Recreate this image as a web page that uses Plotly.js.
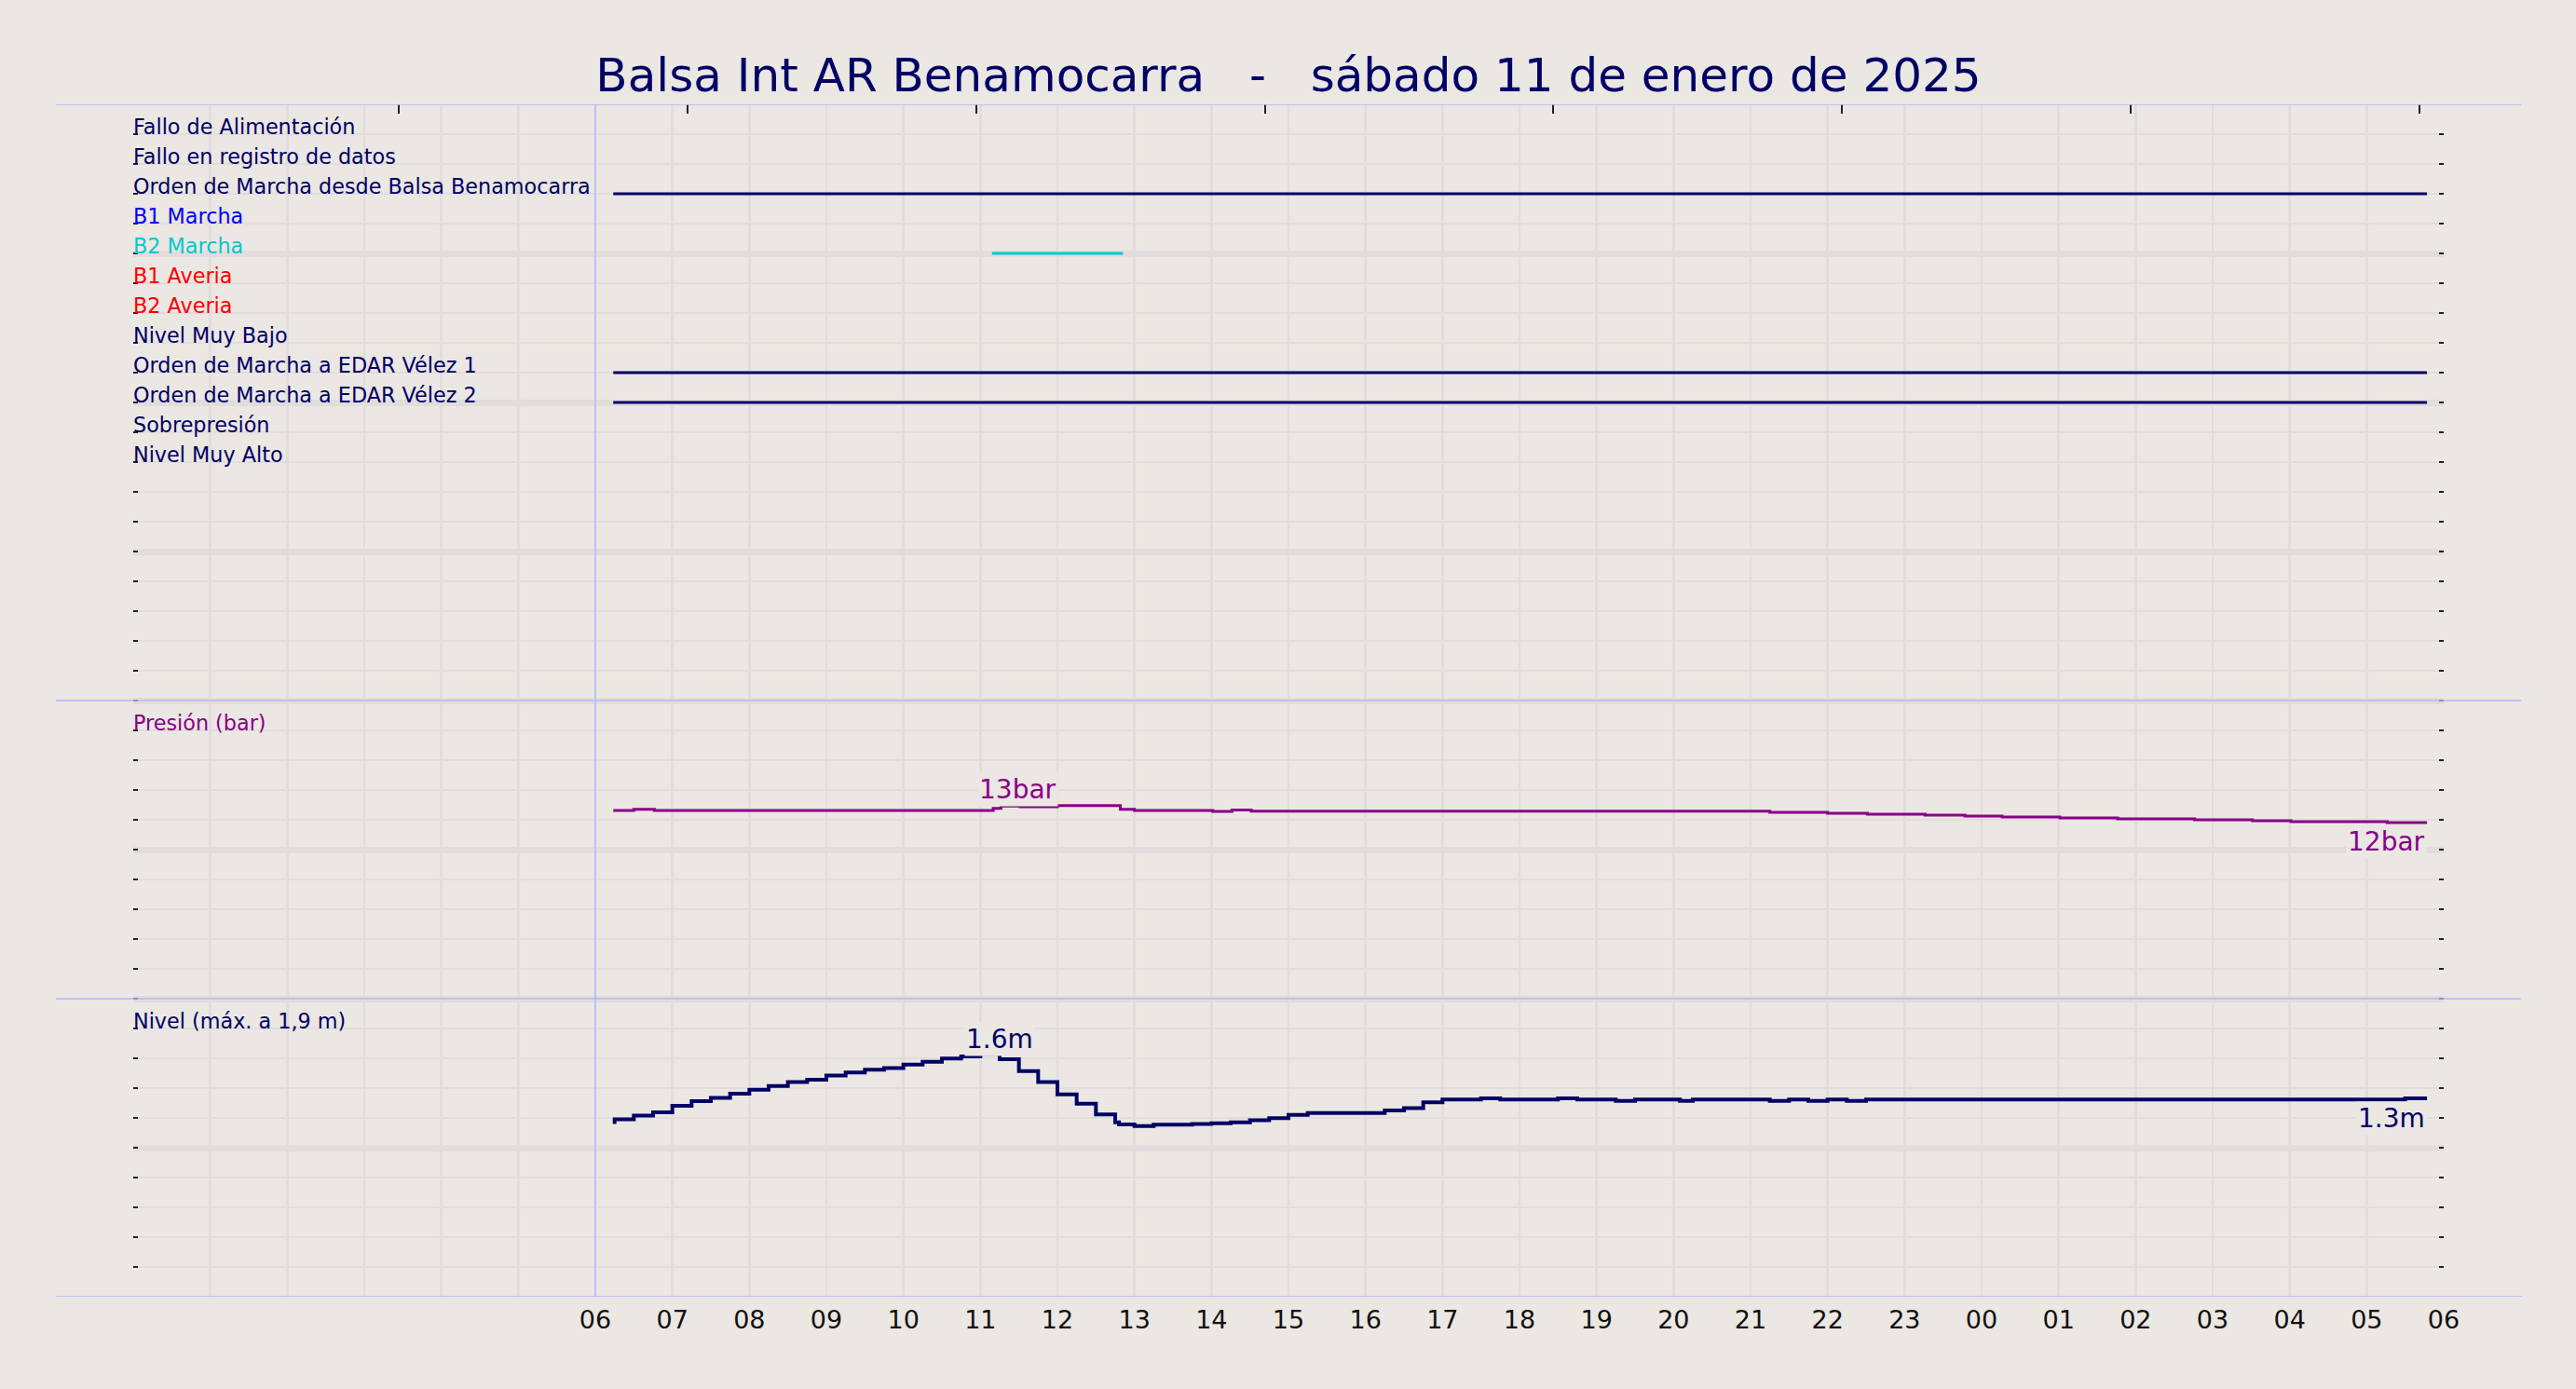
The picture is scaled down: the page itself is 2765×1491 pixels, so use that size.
<!DOCTYPE html>
<html><head><meta charset="utf-8">
<script src="https://cdn.plot.ly/plotly-3.0.1.min.js"></script>
<style>html,body{margin:0;padding:0;background:#ebe7e2;}</style>
</head><body><div id="chart" style="width:2765px;height:1491px;"></div>
<script>
// ---------------- DATA ----------------
const titleText = 'Balsa Int AR Benamocarra\u00a0\u00a0\u00a0-\u00a0\u00a0\u00a0sábado 11 de enero de 2025';
const rangeStart = '2025-01-11 00:00';
const rangeEnd = '2025-01-12 06:00';
const dividerTime = '2025-01-11 06:00';

const hourLabels = ['', '', '', '', '', '', '06', '07', '08', '09', '10', '11', '12', '13', '14', '15', '16', '17',
  '18', '19', '20', '21', '22', '23', '00', '01', '02', '03', '04', '05', '06'];

const signalLabels = ['Fallo de Alimentación', 'Fallo en registro de datos', 'Orden de Marcha desde Balsa Benamocarra',
  'B1 Marcha', 'B2 Marcha', 'B1 Averia', 'B2 Averia', 'Nivel Muy Bajo', 'Orden de Marcha a EDAR Vélez 1',
  'Orden de Marcha a EDAR Vélez 2', 'Sobrepresión', 'Nivel Muy Alto'];
const signalColors = ['#000066', '#000066', '#000066', '#0000ff', '#00c8d0', '#ff0000', '#ff0000', '#000066',
  '#000066', '#000066', '#000066', '#000066'];
const signalOnStart = [[], [], ['2025-01-11 06:14'], [], ['2025-01-11 11:09'], [], [], [], ['2025-01-11 06:14'], ['2025-01-11 06:14'], [], []];
const signalOnEnd   = [[], [], ['2025-01-12 05:47'], [], ['2025-01-11 12:51'], [], [], [], ['2025-01-12 05:47'], ['2025-01-12 05:47'], [], []];

const presTimes = ['2025-01-11 06:14', '2025-01-11 06:30', '2025-01-11 06:46', '2025-01-11 11:10', '2025-01-11 11:16',
  '2025-01-11 11:31', '2025-01-11 12:00', '2025-01-11 12:49', '2025-01-11 13:00', '2025-01-11 14:01', '2025-01-11 14:16',
  '2025-01-11 14:31', '2025-01-11 21:15', '2025-01-11 22:00', '2025-01-11 22:31', '2025-01-11 23:16', '2025-01-11 23:47',
  '2025-01-12 00:16', '2025-01-12 01:01', '2025-01-12 01:46', '2025-01-12 02:46', '2025-01-12 03:31', '2025-01-12 04:01',
  '2025-01-12 05:16', '2025-01-12 05:47'];
const presValues = [12.62, 12.71, 12.62, 12.77, 12.92, 12.87, 12.96, 12.71, 12.62, 12.56, 12.65, 12.58, 12.50, 12.44,
  12.37, 12.31, 12.25, 12.19, 12.12, 12.06, 12.00, 11.94, 11.87, 11.81, 11.81];

const levelTimes = ['2025-01-11 06:15', '2025-01-11 06:15', '2025-01-11 06:30', '2025-01-11 06:45', '2025-01-11 07:00',
  '2025-01-11 07:15', '2025-01-11 07:30', '2025-01-11 07:45', '2025-01-11 08:00', '2025-01-11 08:15', '2025-01-11 08:30',
  '2025-01-11 08:45', '2025-01-11 09:00', '2025-01-11 09:15', '2025-01-11 09:30', '2025-01-11 09:45', '2025-01-11 10:00',
  '2025-01-11 10:15', '2025-01-11 10:30', '2025-01-11 10:45', '2025-01-11 11:00', '2025-01-11 11:15', '2025-01-11 11:30',
  '2025-01-11 11:45', '2025-01-11 12:00', '2025-01-11 12:15', '2025-01-11 12:30', '2025-01-11 12:45', '2025-01-11 12:48',
  '2025-01-11 13:00', '2025-01-11 13:15', '2025-01-11 13:45', '2025-01-11 14:00', '2025-01-11 14:15', '2025-01-11 14:30',
  '2025-01-11 14:45', '2025-01-11 15:00', '2025-01-11 15:15', '2025-01-11 16:15', '2025-01-11 16:30', '2025-01-11 16:45',
  '2025-01-11 17:00', '2025-01-11 17:30', '2025-01-11 17:45', '2025-01-11 18:30', '2025-01-11 18:45', '2025-01-11 19:15',
  '2025-01-11 19:30', '2025-01-11 20:05', '2025-01-11 20:15', '2025-01-11 21:15', '2025-01-11 21:30', '2025-01-11 21:45',
  '2025-01-11 22:00', '2025-01-11 22:15', '2025-01-11 22:30', '2025-01-12 05:30', '2025-01-12 05:47'];
const levelValues = [1.160, 1.191, 1.216, 1.237, 1.281, 1.312, 1.335, 1.362, 1.389, 1.414, 1.441, 1.456, 1.485, 1.504,
  1.523, 1.535, 1.558, 1.577, 1.598, 1.612, 1.630, 1.594, 1.514, 1.441, 1.358, 1.296, 1.223, 1.171, 1.156, 1.146, 1.154,
  1.160, 1.164, 1.171, 1.185, 1.198, 1.221, 1.233, 1.250, 1.266, 1.304, 1.323, 1.331, 1.323, 1.331, 1.323, 1.314, 1.323,
  1.314, 1.323, 1.314, 1.323, 1.314, 1.323, 1.314, 1.323, 1.331, 1.331];

const presLabelTexts = ['13bar', '12bar'];
const presLabelTimes = ['2025-01-11 11:29', '2025-01-12 05:47'];
const presLabelValues = [12.89, 11.81];
const levelLabelTexts = ['1.6m', '1.3m'];
const levelLabelTimes = ['2025-01-11 11:15', '2025-01-12 05:47'];
const levelLabelValues = [1.612, 1.331];

const panelTitles = ['Presión (bar)', 'Nivel (máx. a 1,9 m)'];
const panelTitleColors = ['#880088', '#000066'];
const panelTitleRows = [21, 31];
const panelBounds = [0, 20, 30, 40];
const topTickRange = [-0.9187, 7.083];

// ---------------- STYLE ----------------
const BG = '#ebe7e2', GRID = '#e2dddc', NAVY = '#000066', PURPLE = '#880088', SEP = '#b4b4ff';
const FONT = 'DejaVu Sans';
const ROWFONT = 22.3;

const traces = [];
signalLabels.forEach((lab, i) => {
  signalOnStart[i].forEach((s, k) => {
    traces.push({type: 'scatter', mode: 'lines', x: [s, signalOnEnd[i][k]], y: [i + 1, i + 1],
      line: {color: signalColors[i], width: 3}, hoverinfo: 'skip', showlegend: false});
  });
});
traces.push({type: 'scatter', mode: 'lines', x: presTimes, y: presValues, yaxis: 'y2',
  line: {color: PURPLE, width: 3, shape: 'hv'}, showlegend: false});
traces.push({type: 'scatter', mode: 'lines', x: levelTimes, y: levelValues, yaxis: 'y3',
  line: {color: NAVY, width: 4, shape: 'hv'}, showlegend: false});
traces.push({type: 'scatter', mode: 'lines', x: [], y: [], xaxis: 'x2', yaxis: 'y', showlegend: false, hoverinfo: 'skip'});

const startMs = new Date(rangeStart.replace(' ', 'T')).getTime();
const hourTicks = hourLabels.map((_, i) => {
  const d = new Date(startMs + i * 3600000);
  const p = n => String(n).padStart(2, '0');
  return d.getFullYear() + '-' + p(d.getMonth() + 1) + '-' + p(d.getDate()) + ' ' + p(d.getHours()) + ':00';
});

const annotations = [];
signalLabels.forEach((lab, i) => {
  annotations.push({text: lab, xref: 'paper', x: 0, xanchor: 'left', xshift: -2, yref: 'y', y: i + 1, yanchor: 'bottom',
    yshift: -7, showarrow: false, font: {family: FONT, size: ROWFONT, color: signalColors[i]}});
});
panelTitles.forEach((t, i) => {
  annotations.push({text: t, xref: 'paper', x: 0, xanchor: 'left', xshift: -2, yref: 'y', y: panelTitleRows[i], yanchor: 'bottom',
    yshift: -7, showarrow: false, font: {family: FONT, size: ROWFONT, color: panelTitleColors[i]}});
});
presLabelTexts.forEach((t, i) => {
  annotations.push({text: t, xref: 'x', x: presLabelTimes[i], xanchor: i === 0 ? 'center' : 'right',
    yref: 'y2', y: presLabelValues[i], yanchor: i === 0 ? 'bottom' : 'top', yshift: i === 0 ? 0 : -2,
    showarrow: false, bgcolor: BG, borderpad: 1, font: {family: FONT, size: 28, color: PURPLE}});
});
levelLabelTexts.forEach((t, i) => {
  annotations.push({text: t, xref: 'x', x: levelLabelTimes[i], xanchor: i === 0 ? 'center' : 'right',
    yref: 'y3', y: levelLabelValues[i], yanchor: i === 0 ? 'bottom' : 'top', yshift: i === 0 ? 0 : -3,
    showarrow: false, bgcolor: BG, borderpad: 1, font: {family: FONT, size: 28, color: NAVY}});
});

const shapes = panelBounds.map(b => ({type: 'line', xref: 'paper', x0: -0.0335, x1: 1.0336, yref: 'y', y0: b, y1: b,
  line: {color: SEP, width: 1.5}, layer: 'above'}));
shapes.push({type: 'line', xref: 'x', x0: dividerTime, x1: dividerTime, yref: 'y', y0: panelBounds[0],
  y1: panelBounds[panelBounds.length - 1], line: {color: SEP, width: 1.5}, layer: 'above'});

const layout = {
  width: 2765, height: 1491,
  paper_bgcolor: BG, plot_bgcolor: BG,
  margin: {l: 143, r: 142, t: 112, b: 99, pad: 0},
  showlegend: false,
  font: {family: FONT, color: NAVY},
  title: {text: titleText, font: {family: FONT, size: 50, color: NAVY}, x: 0.5, xanchor: 'center',
    xref: 'paper', y: 0.9457, yanchor: 'middle', yref: 'container'},
  xaxis: {type: 'date', range: [rangeStart, rangeEnd], tickmode: 'array', tickvals: hourTicks, ticktext: hourLabels,
    showgrid: true, gridcolor: GRID, gridwidth: 2.5, zeroline: false, showline: false, ticks: '',
    tickfont: {family: FONT, size: 27, color: '#111'}, ticklabelstandoff: 6},
  xaxis2: {overlaying: 'x', side: 'top', anchor: 'y', range: topTickRange, tickmode: 'linear', tick0: 0, dtick: 1,
    ticks: 'inside', ticklen: 10, tickwidth: 2, tickcolor: '#222', showticklabels: false, showgrid: false,
    zeroline: false, showline: false},
  yaxis: {range: [panelBounds[3], panelBounds[0]], tickmode: 'linear', tick0: 0, dtick: 5, showgrid: true,
    gridcolor: GRID, gridwidth: 7, zeroline: false, showline: false, ticks: 'inside', ticklen: 5, tickwidth: 2,
    tickcolor: '#222', mirror: 'ticks', showticklabels: false,
    minor: {tickmode: 'linear', tick0: 0, dtick: 1, showgrid: true, gridcolor: GRID, gridwidth: 2.5,
      ticks: 'inside', ticklen: 5, tickwidth: 2, tickcolor: '#222'}},
  yaxis2: {overlaying: 'y', range: [-20, 60], visible: false},
  yaxis3: {overlaying: 'y', range: [0, 8], visible: false},
  annotations: annotations,
  shapes: shapes
};

Plotly.newPlot('chart', traces, layout, {staticPlot: true, displayModeBar: false});
</script>
</body></html>
